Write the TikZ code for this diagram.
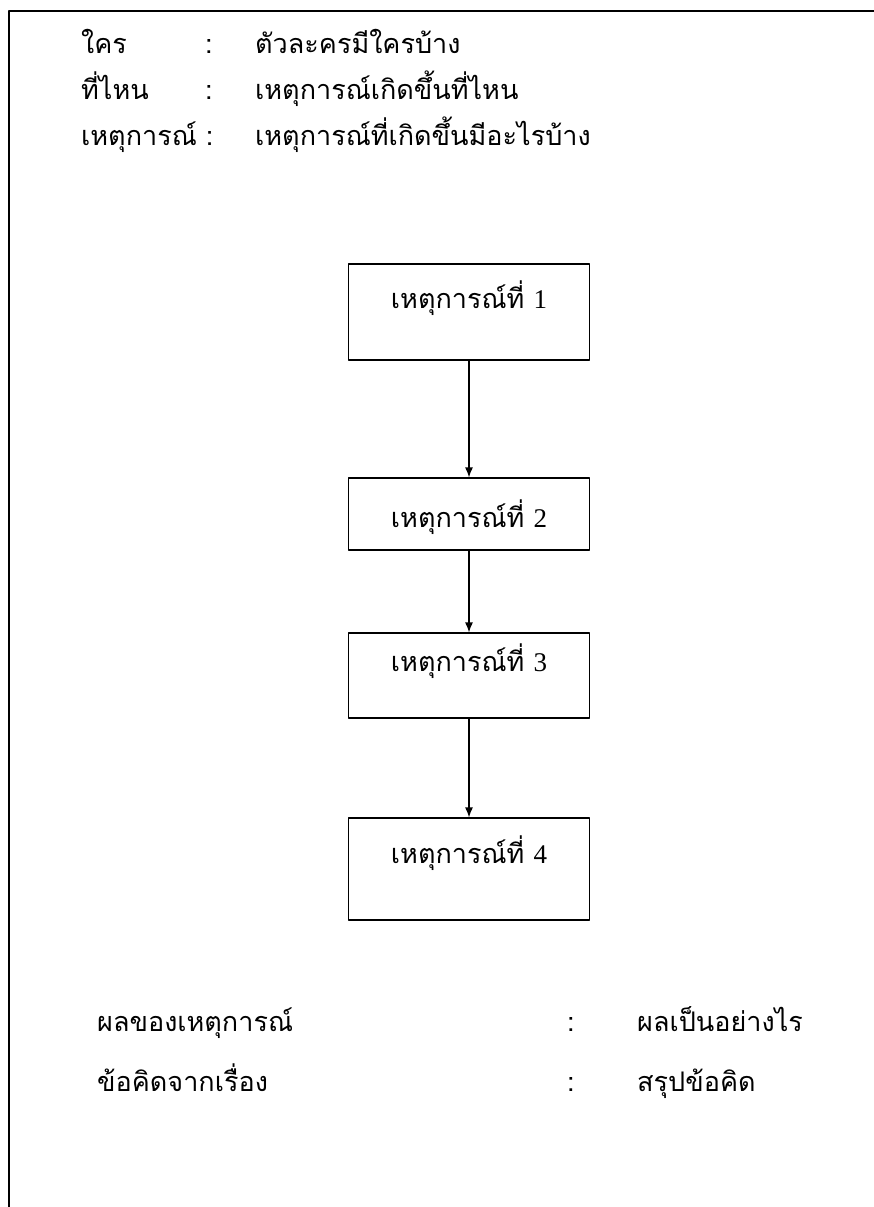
\documentclass[tikz,border=0pt]{standalone}
\usepackage{fontspec}
\usetikzlibrary{arrows.meta}
\newfontfamily\thaifont[Script=Thai]{Loma}
\newfontfamily\numfont{Liberation Serif}
\tikzset{
  eventbox/.style={draw,line width=1.2bp,minimum width=241bp,inner sep=0pt,text height=19bp,text depth=7bp},
  plain/.style={draw=none,inner sep=0pt,anchor=base west},
}
\begin{document}
\begin{tikzpicture}[>={Latex[length=10bp,width=8bp]},line join=bevel,x=1bp,y=-1bp,font=\thaifont\fontsize{27bp}{32bp}\selectfont]
\useasboundingbox (0,0) rectangle (874,1207);
%%
\draw [black,line width=1.3bp] (9,1207) -- (9,11) -- (874,11);
%
\node (node_who) at (81,53) [plain] {ใคร};
  \node (node_who_c) at (205,53) [plain] {:};
  \node (node_who_v) at (255,53) [plain] {ตัวละครมีใครบ้าง};
\node (node_where) at (81,99) [plain] {ที่ไหน};
  \node (node_where_c) at (205,99) [plain] {:};
  \node (node_where_v) at (255,99) [plain] {เหตุการณ์เกิดขึ้นที่ไหน};
\node (node_what) at (81,145) [plain] {เหตุการณ์ :};
  \node (node_what_v) at (255,145) [plain] {เหตุการณ์ที่เกิดขึ้นมีอะไรบ้าง};
%
\node (node_1) at (469,312) [eventbox,minimum height=96bp,text depth=27bp] {เหตุการณ์ที่ {\numfont 1}};
  \node (node_2) at (469,514) [eventbox,minimum height=72bp,text height=33bp] {เหตุการณ์ที่ {\numfont 2}};
  \node (node_3) at (469,675.5) [eventbox,minimum height=85bp,text depth=27bp] {เหตุการณ์ที่ {\numfont 3}};
  \node (node_4) at (469,869) [eventbox,minimum height=102bp,text depth=31bp] {เหตุการณ์ที่ {\numfont 4}};
  \draw [black,line width=1.2bp,->] (node_1) -- (node_2);
  \draw [black,line width=1.2bp,->] (node_2) -- (node_3);
  \draw [black,line width=1.2bp,->] (node_3) -- (node_4);
%
\node (node_result) at (97,1031) [plain] {ผลของเหตุการณ์};
  \node (node_result_c) at (567,1031) [plain] {:};
  \node (node_result_v) at (637,1031) [plain] {ผลเป็นอย่างไร};
\node (node_moral) at (97,1091) [plain] {ข้อคิดจากเรื่อง};
  \node (node_moral_c) at (567,1091) [plain] {:};
  \node (node_moral_v) at (637,1091) [plain] {สรุปข้อคิด};
%
\end{tikzpicture}
\end{document}
